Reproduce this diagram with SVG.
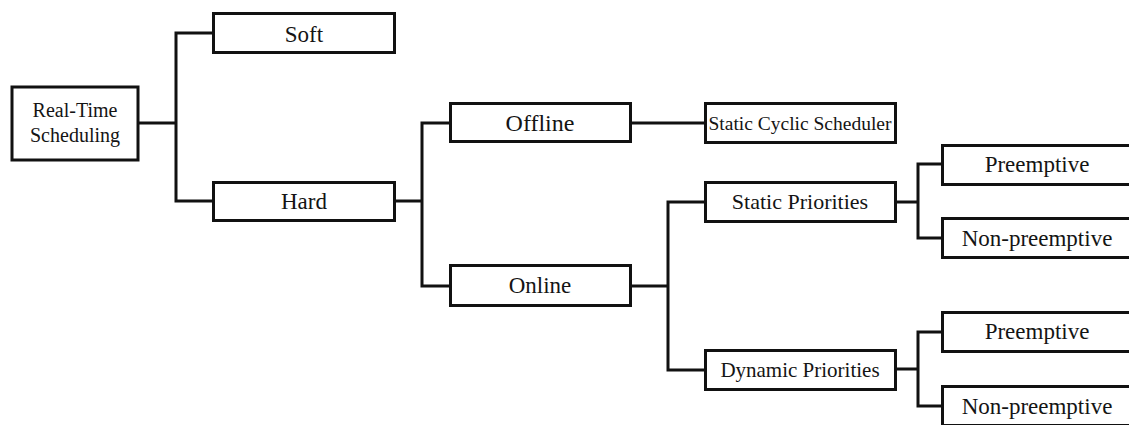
<svg xmlns="http://www.w3.org/2000/svg" width="1129" height="425" viewBox="0 0 1129 425">
<style>
rect.box { fill: #ffffff; stroke: #111111; stroke-width: 3; }
text { font-family: "Liberation Serif", "Times New Roman", serif; fill: #141414; text-anchor: middle; }
.conn path { fill: none; stroke: #111111; stroke-width: 3; stroke-linecap: square; stroke-linejoin: miter; }
</style>
<rect width="1129" height="425" fill="#ffffff"/>
<g class="conn" id="connectors">
  <path d="M139 123 H176 M176 33 V201 M176 33 H212 M176 201 H212"/>
  <path d="M396 201 H422 M422 123 V286 M422 123 H449 M422 286 H449"/>
  <path d="M632 123 H704"/>
  <path d="M632 286 H668 M668 202 V370 M668 202 H704 M668 370 H704"/>
  <path d="M897 202 H918 M918 164 V238 M918 164 H941 M918 238 H941"/>
  <path d="M897 369 H918 M918 332 V406 M918 332 H941 M918 406 H941"/>
</g>
<g id="root">
  <rect class="box" x="12" y="87" width="126" height="73"/>
  <text x="75" y="117" font-size="20">Real-Time</text>
  <text x="75" y="142" font-size="20">Scheduling</text>
</g>
<g id="soft">
  <rect class="box" x="213.5" y="13.5" width="181" height="39"/>
  <text x="304" y="42" font-size="23">Soft</text>
</g>
<g id="hard">
  <rect class="box" x="213.5" y="182.5" width="181" height="38"/>
  <text x="304" y="209" font-size="23">Hard</text>
</g>
<g id="offline">
  <rect class="box" x="450.5" y="103.5" width="180" height="38"/>
  <text x="540" y="131" font-size="24">Offline</text>
</g>
<g id="online">
  <rect class="box" x="450.5" y="265.5" width="180" height="40"/>
  <text x="540" y="293" font-size="23">Online</text>
</g>
<g id="static-cyclic">
  <rect class="box" x="705.5" y="103.5" width="190" height="39"/>
  <text x="800" y="130" font-size="19.5">Static Cyclic Scheduler</text>
</g>
<g id="static-priorities">
  <rect class="box" x="705.5" y="182.5" width="190" height="39"/>
  <text x="800" y="209" font-size="22">Static Priorities</text>
</g>
<g id="dynamic-priorities">
  <rect class="box" x="705.5" y="350.5" width="190" height="39"/>
  <text x="800" y="377" font-size="21">Dynamic Priorities</text>
</g>
<g id="static-preemptive">
  <rect class="box" x="942.5" y="145.5" width="192" height="39"/>
  <text x="1037" y="172" font-size="23">Preemptive</text>
</g>
<g id="static-nonpreemptive">
  <rect class="box" x="942.5" y="218.5" width="192" height="39"/>
  <text x="1037" y="246" font-size="23">Non-preemptive</text>
</g>
<g id="dynamic-preemptive">
  <rect class="box" x="942.5" y="312.5" width="192" height="39"/>
  <text x="1037" y="339" font-size="23">Preemptive</text>
</g>
<g id="dynamic-nonpreemptive">
  <rect class="box" x="942.5" y="386.5" width="192" height="39"/>
  <text x="1037" y="414" font-size="23">Non-preemptive</text>
</g>
</svg>
